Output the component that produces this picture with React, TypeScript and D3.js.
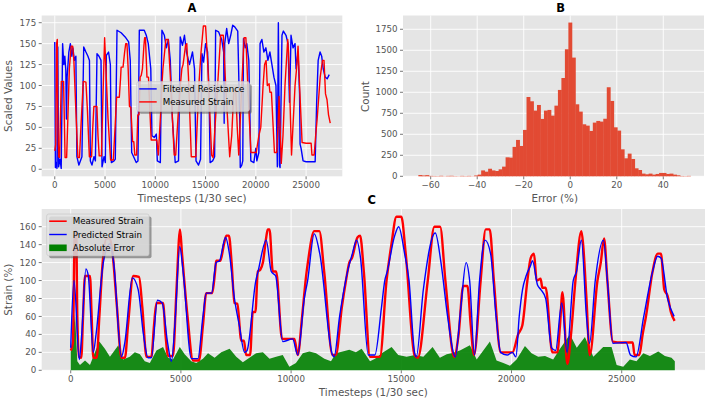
import React from 'react';
import * as d3 from 'd3';

// ---------- data ----------
const timeTicks = [0, 5000, 10000, 15000, 20000, 25000];
const scaledTicks = [0, 25, 50, 75, 100, 125, 150, 175];
const errorTicks = [-60, -40, -20, 0, 20, 40];
const countTicks = [0, 250, 500, 750, 1000, 1250, 1500, 1750];
const strainTicks = [0, 20, 40, 60, 80, 100, 120, 140, 160];

const measuredStrain: [number, number][] = [
  [0, 22], [100, 30], [180, 150], [250, 155], [300, 60], [380, 15], [480, 14], [560, 60], [650, 105], [875, 105],
  [950, 60], [1025, 14], [1180, 14], [1300, 60], [1450, 120], [1630, 147], [1780, 147], [1900, 130], [2100, 70],
  [2300, 14], [2460, 14], [2600, 50], [2835, 105], [3100, 104], [3250, 70], [3440, 15], [3660, 15], [3780, 50],
  [3890, 75], [4190, 75], [4300, 40], [4420, 16], [4640, 16], [4800, 90], [4960, 157], [5050, 130], [5300, 60],
  [5550, 11], [5820, 11], [6000, 50], [6150, 86], [6420, 86], [6550, 110], [6600, 122], [6790, 122], [6950, 140],
  [7060, 150], [7180, 150], [7300, 120], [7430, 75], [7560, 74], [7740, 33], [7860, 33], [7960, 17], [8140, 17],
  [8260, 65], [8380, 65], [8490, 110], [8600, 112], [8720, 120], [8870, 148], [8940, 157], [9020, 157], [9170, 110],
  [9320, 110], [9590, 35], [10150, 35], [10300, 17], [10500, 60], [10680, 105], [10760, 120], [11050, 155],
  [11280, 155], [11500, 110], [11880, 17], [12030, 17], [12300, 70], [12490, 100], [12640, 120], [12760, 125],
  [13010, 148], [13130, 150], [13300, 110], [13580, 15], [14030, 15], [14330, 100], [14550, 140], [14780, 171],
  [15000, 171], [15200, 130], [15600, 17], [15750, 14], [16200, 100], [16500, 160], [16760, 160], [17000, 100],
  [17400, 15], [17600, 40], [17810, 94], [18000, 94], [18150, 50], [18300, 17], [18600, 100], [18830, 157],
  [19010, 157], [19200, 100], [19510, 20], [20040, 20], [20300, 40], [20490, 50], [20720, 100], [20870, 125],
  [21020, 130], [21140, 100], [21320, 102], [21400, 92], [21550, 92], [21850, 20], [22080, 20], [22200, 50],
  [22310, 87], [22530, 7], [22700, 40], [22900, 100], [23170, 155], [23250, 140], [23400, 80], [23550, 17],
  [23900, 100], [24050, 120], [24200, 147], [24350, 100], [24600, 32], [25000, 31], [25500, 31], [25580, 17],
  [25800, 17], [25950, 40], [26100, 60], [26400, 110], [26630, 130], [26780, 130], [26930, 90], [27080, 83],
  [27230, 65], [27400, 55],
];

const filteredResistance: [number, number][] = [
  [0, 152], [60, 2], [150, 8], [220, 1], [300, 146], [380, 3], [520, 12], [640, 1], [780, 150], [900, 125],
  [1000, 135], [1100, 118], [1160, 60], [1230, 110], [1400, 140], [1550, 150], [1700, 135], [1800, 145],
  [1950, 130], [2100, 135], [2200, 15], [2400, 5], [2700, 15], [2880, 146], [3100, 140], [3300, 135], [3450, 130],
  [3540, 10], [3700, 5], [3900, 15], [4040, 10], [4200, 138], [4400, 135], [4600, 130], [4700, 3], [4900, 15],
  [5030, 8], [5130, 136], [5350, 140], [5530, 125], [5630, 8], [5900, 10], [6020, 12], [6190, 166], [6600, 163],
  [7000, 158], [7350, 152], [7510, 130], [7650, 20], [7845, 15], [8100, 8], [8275, 10], [8410, 166], [8900, 166],
  [9100, 160], [9300, 150], [9550, 120], [9665, 40], [9900, 38], [10100, 42], [10200, 10], [10500, 8],
  [10660, 166], [10900, 160], [11100, 145], [11300, 155], [11490, 130], [11700, 60], [11980, 8], [12310, 10],
  [12480, 158], [12700, 148], [12900, 160], [13100, 140], [13400, 125], [13700, 140], [13900, 120], [14050, 10],
  [14300, 5], [14500, 12], [14640, 138], [14800, 128], [15000, 150], [15200, 140], [15350, 90], [15450, 8],
  [15700, 10], [15900, 15], [16000, 166], [16300, 164], [16600, 155], [16800, 140], [16850, 55], [16900, 150],
  [17100, 168], [17300, 150], [17500, 160], [17700, 172], [17900, 170], [18200, 165], [18400, 60], [18450, 2],
  [18600, 5], [18700, 10], [18770, 156], [18950, 145], [19100, 150], [19300, 130], [19450, 40], [19500, 10],
  [19800, 8], [20000, 25], [20100, 10], [20300, 20], [20420, 150], [20600, 155], [20800, 140], [21000, 145],
  [21200, 130], [21400, 140], [21600, 125], [21800, 110], [22000, 100], [22140, 3], [22240, 175], [22350, 5],
  [22410, 2], [22600, 160], [22740, 165], [23000, 160], [23200, 150], [23350, 80], [23500, 160], [23700, 145],
  [23900, 150], [24000, 120], [24200, 140], [24350, 90], [24400, 30], [24500, 25], [24700, 10], [25000, 9],
  [25500, 9], [25900, 9], [26050, 80], [26200, 130], [26390, 140], [26550, 135], [26700, 120], [26900, 110],
  [27100, 108], [27300, 113],
];

const predictedStrain: [number, number][] = [
  [0, 25], [150, 100], [390, 12], [500, 40], [690, 113], [800, 105], [1025, 20], [1150, 40], [1480, 120],
  [1780, 141], [1950, 120], [2300, 15], [2450, 30], [2800, 103], [3060, 90], [3300, 40], [3510, 14], [3660, 14],
  [3935, 78], [4150, 75], [4400, 30], [4570, 10], [4750, 60], [4946, 138], [5100, 110], [5475, 13], [5770, 13],
  [6000, 60], [6150, 86], [6390, 86], [6600, 120], [6750, 122], [7027, 148], [7200, 130], [7430, 80], [7650, 50],
  [7890, 20], [8000, 22], [8400, 100], [8500, 110], [8870, 145], [9100, 110], [9300, 105], [9620, 32],
  [10070, 35], [10300, 17], [10600, 80], [10750, 100], [11050, 152], [11300, 130], [11880, 17], [11950, 15],
  [12200, 60], [12560, 110], [12780, 130], [12970, 145], [13150, 125], [13500, 17], [13800, 17], [14100, 70],
  [14250, 100], [14360, 110], [14700, 150], [14880, 160], [15150, 130], [15350, 100], [15600, 20], [15680, 15],
  [16000, 90], [16540, 153], [16800, 120], [17100, 60], [17450, 15], [17700, 70], [17940, 120], [18100, 100],
  [18320, 17], [18550, 100], [18800, 145], [19050, 130], [19300, 60], [19510, 20], [19800, 17], [20040, 20],
  [20200, 15], [20350, 60], [20500, 90], [20660, 105], [20870, 117], [20950, 122], [21180, 95], [21330, 90],
  [21550, 80], [21820, 25], [22000, 22], [22280, 75], [22520, 20], [22800, 100], [22950, 110], [23170, 145],
  [23400, 60], [23540, 30], [23800, 100], [24170, 145], [24350, 100], [24600, 30], [25200, 31], [25400, 17],
  [25650, 15], [26000, 60], [26400, 110], [26630, 127], [26780, 125], [27080, 80], [27380, 60],
];

const absoluteError: [number, number][] = [
  [0, 20], [90, 40], [196, 63], [300, 10], [420, 6], [650, 11], [875, 6], [1100, 20], [1300, 32], [1550, 24],
  [1780, 15], [1930, 20], [2160, 28], [2380, 12], [2680, 15], [2910, 20], [3140, 18], [3360, 10], [3590, 8],
  [3890, 22], [4190, 26], [4420, 14], [4640, 12], [4950, 26], [5170, 18], [5470, 10], [5700, 8], [6000, 13],
  [6230, 19], [6530, 14], [6830, 20], [7210, 24], [7510, 15], [7810, 9], [8110, 14], [8410, 19], [8720, 20],
  [9020, 13], [9320, 15], [9620, 17], [9920, 4], [10220, 8], [10530, 19], [10830, 21], [11130, 19], [11510, 13],
  [11810, 10], [12030, 19], [12340, 21], [12640, 23], [12940, 20], [13200, 24], [13580, 10], [13810, 13],
  [14110, 19], [14560, 26], [14860, 17], [15240, 15], [15620, 17], [16000, 15], [16420, 26], [16750, 14],
  [17060, 18], [17280, 19], [17660, 22], [18110, 28], [18420, 12], [18720, 22], [19020, 32], [19320, 11],
  [19630, 8], [19930, 5], [20230, 12], [20610, 27], [20910, 19], [21210, 15], [21520, 16], [21890, 12],
  [22200, 24], [22650, 40], [22960, 25], [23330, 37], [23710, 15], [24160, 26], [24540, 26], [24770, 6],
  [25070, 4], [25370, 12], [25670, 10], [25980, 19], [26280, 16], [26660, 21], [26960, 16], [27260, 14],
  [27410, 10],
];

const histStart = -65.3;
const histBinWidth = 1.5;
const histCounts = [
  15, 10, 14, 5, 4, 3, 6, 2, 5, 6, 3, 2, 5, 3, 5, 2, 10, 20, 70, 55,
  90, 70, 63, 83, 115, 226, 222, 350, 433, 361, 552, 944, 893, 782, 849, 683, 782, 790, 722, 841,
  1028, 1170, 1512, 1830, 1413, 857, 770, 619, 603, 540, 639, 659, 651, 685, 1060, 897, 583, 544, 321, 214,
  270, 206, 95, 75, 32, 24, 32, 20, 28, 40, 40, 28, 32, 20, 12, 4, 3, 5,
];

// ---------- styling ----------
const FONT = "'DejaVu Sans', sans-serif";
const BG = '#E5E5E5';
const TXT = '#555555';
const TICK_FS = 8.7;
const LABEL_FS = 10.4;
const TITLE_FS = 11.5;

type Scale = d3.ScaleLinear<number, number>;

function Frame({ x, y, xTicks, yTicks, xFmt, yFmt }: {
  x: Scale; y: Scale; xTicks: number[]; yTicks: number[];
  xFmt?: (v: number) => string; yFmt?: (v: number) => string;
}) {
  const [x0, x1] = x.range();
  const [y0, y1] = y.range();
  const fx = xFmt || ((v: number) => String(v));
  const fy = yFmt || ((v: number) => String(v));
  return (
    <g>
      <rect x={x0} y={y1} width={x1 - x0} height={y0 - y1} fill={BG} />
      {xTicks.map((t) => (
        <line key={'gx' + t} x1={x(t)} x2={x(t)} y1={y1} y2={y0} stroke="#fff" strokeWidth={0.9} />
      ))}
      {yTicks.map((t) => (
        <line key={'gy' + t} x1={x0} x2={x1} y1={y(t)} y2={y(t)} stroke="#fff" strokeWidth={0.9} />
      ))}
      {xTicks.map((t) => (
        <g key={'tx' + t}>
          <line x1={x(t)} x2={x(t)} y1={y0} y2={y0 + 3} stroke={TXT} strokeWidth={0.8} />
          <text x={x(t)} y={y0 + 12} textAnchor="middle" fontSize={TICK_FS} fill={TXT} fontFamily={FONT}>{fx(t)}</text>
        </g>
      ))}
      {yTicks.map((t) => (
        <g key={'ty' + t}>
          <line x1={x0 - 3} x2={x0} y1={y(t)} y2={y(t)} stroke={TXT} strokeWidth={0.8} />
          <text x={x0 - 5.5} y={y(t) + 3.1} textAnchor="end" fontSize={TICK_FS} fill={TXT} fontFamily={FONT}>{fy(t)}</text>
        </g>
      ))}
    </g>
  );
}

type LegendItem = { label: string; color: string; kind: 'line' | 'patch'; width?: number };

function Legend({ x, y, w, h, items, rowGap }: { x: number; y: number; w: number; h: number; items: LegendItem[]; rowGap: number }) {
  return (
    <g>
      <rect x={x + 2.5} y={y + 2.5} width={w} height={h} rx={2} fill="#454545" opacity={0.5} />
      <rect x={x} y={y} width={w} height={h} rx={2} fill={BG} fillOpacity={0.8} stroke="#CCCCCC" strokeWidth={0.8} />
      {items.map((it, i) => {
        const cy = y + 7.2 + i * rowGap;
        return (
          <g key={it.label}>
            {it.kind === 'line' ? (
              <line x1={x + 2.5} x2={x + 20} y1={cy} y2={cy} stroke={it.color} strokeWidth={it.width || 1.4} />
            ) : (
              <rect x={x + 2.5} y={cy - 3.3} width={17.5} height={6.6} fill={it.color} />
            )}
            <text x={x + 26} y={cy + 3.1} fontSize={8.7} fill="#000" fontFamily={FONT}>{it.label}</text>
          </g>
        );
      })}
    </g>
  );
}

export default function App() {
  // Panel A
  const xA = d3.scaleLinear().domain([-1300, 28600]).range([41.7, 342.3]);
  const yA = d3.scaleLinear().domain([-8.4, 183.6]).range([176.3, 15.5]);
  // Panel B
  const xB = d3.scaleLinear().domain([-71.9, 57.5]).range([403, 704]);
  const yB = d3.scaleLinear().domain([0, 1914]).range([176.3, 15.5]);
  // Panel C
  const xC = d3.scaleLinear().domain([-1316, 28779]).range([41.7, 705]);
  const yC = d3.scaleLinear().domain([0, 179.7]).range([370.3, 209]);

  const lineA = d3.line<[number, number]>().x((d) => xA(d[0])).y((d) => yA(d[1]));
  const lineC = d3.line<[number, number]>().x((d) => xC(d[0])).y((d) => yC(d[1])).curve(d3.curveMonotoneX);
  const areaC = d3.area<[number, number]>().x((d) => xC(d[0])).y0(yC(0)).y1((d) => yC(d[1]));

  const minus = (v: number) => (v < 0 ? '\u2212' + Math.abs(v) : String(v));

  return (
    <svg width={708} height={402} style={{ position: 'fixed', left: 0, top: 0, background: '#fff' }} fontFamily={FONT}>
      <rect x={0} y={0} width={708} height={402} fill="#fff" />

      {/* Panel A */}
      <Frame x={xA} y={yA} xTicks={timeTicks} yTicks={scaledTicks} />
      <path d={lineA(filteredResistance) || ''} fill="none" stroke="#0000FF" strokeWidth={1.4} strokeLinejoin="round" />
      <path d={lineA(measuredStrain) || ''} fill="none" stroke="#FF0000" strokeWidth={1.4} strokeLinejoin="round" />
      <Legend x={136.7} y={81.7} w={112.6} h={29.6} rowGap={13}
        items={[
          { label: 'Filtered Resistance', color: '#0000FF', kind: 'line' },
          { label: 'Measured Strain', color: '#FF0000', kind: 'line' },
        ]} />
      <text x={192} y={12} textAnchor="middle" fontSize={TITLE_FS} fontWeight="bold" fill="#000">A</text>
      <text x={192} y={202} textAnchor="middle" fontSize={LABEL_FS} fill={TXT}>Timesteps (1/30 sec)</text>
      <text transform="translate(11.5,96) rotate(-90)" textAnchor="middle" fontSize={LABEL_FS} fill={TXT}>Scaled Values</text>

      {/* Panel B */}
      <Frame x={xB} y={yB} xTicks={errorTicks} yTicks={countTicks} xFmt={minus} />
      <g>
        {histCounts.map((c, i) => {
          const a = histStart + i * histBinWidth;
          return (
            <rect key={i} x={xB(a)} width={xB(a + histBinWidth) - xB(a) + 0.4} y={yB(c)} height={yB(0) - yB(c)} fill="#E24A33" />
          );
        })}
      </g>
      <text x={560.7} y={12} textAnchor="middle" fontSize={TITLE_FS} fontWeight="bold" fill="#000">B</text>
      <text x={554.7} y={202} textAnchor="middle" fontSize={LABEL_FS} fill={TXT}>Error (%)</text>
      <text transform="translate(369.3,96.5) rotate(-90)" textAnchor="middle" fontSize={LABEL_FS} fill={TXT}>Count</text>

      {/* Panel C */}
      <Frame x={xC} y={yC} xTicks={timeTicks} yTicks={strainTicks} />
      <path d={areaC(absoluteError) || ''} fill="#008000" fillOpacity={0.9} />
      <path d={lineC(measuredStrain) || ''} fill="none" stroke="#FF0000" strokeWidth={2.4} strokeLinejoin="round" />
      <path d={lineC(predictedStrain) || ''} fill="none" stroke="#0000FF" strokeWidth={1.4} strokeLinejoin="round" />
      <Legend x={46.7} y={214} w={102.3} h={41.7} rowGap={13.3}
        items={[
          { label: 'Measured Strain', color: '#FF0000', kind: 'line', width: 1.6 },
          { label: 'Predicted Strain', color: '#0000FF', kind: 'line', width: 1.4 },
          { label: 'Absolute Error', color: '#008000', kind: 'patch' },
        ]} />
      <text x={371.7} y={203.5} textAnchor="middle" fontSize={TITLE_FS} fontWeight="bold" fill="#000">C</text>
      <text x={373.3} y={396} textAnchor="middle" fontSize={LABEL_FS} fill={TXT}>Timesteps (1/30 sec)</text>
      <text transform="translate(11.5,289.7) rotate(-90)" textAnchor="middle" fontSize={LABEL_FS} fill={TXT}>Strain (%)</text>
    </svg>
  );
}
